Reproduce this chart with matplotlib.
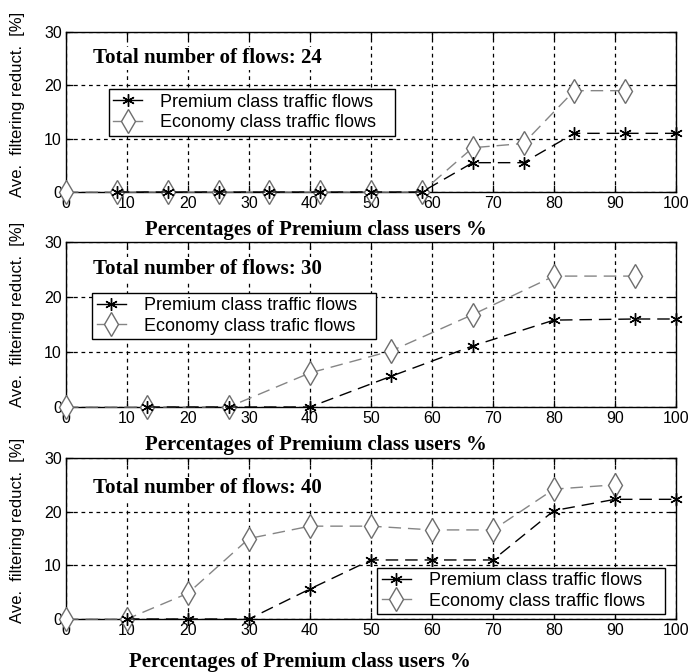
import numpy as np
import matplotlib.pyplot as plt
from matplotlib.lines import Line2D

# Panel 1: 24 flows
x24_prem = [8.33, 16.67, 25, 33.33, 41.67, 50, 58.33, 66.67, 75, 83.33, 91.67, 100]
y24_prem = [0, 0, 0, 0, 0, 0, 0, 5.5, 5.5, 11, 11, 11]
x24_econ = [0, 8.33, 16.67, 25, 33.33, 41.67, 50, 58.33, 66.67, 75, 83.33, 91.67]
y24_econ = [0, 0, 0, 0, 0, 0, 0, 0, 8.3, 9.1, 19, 19]

# Panel 2: 30 flows
x30_prem = [13.33, 26.67, 40, 53.33, 66.67, 80, 93.33, 100]
y30_prem = [0, 0, 0, 5.6, 11.1, 15.8, 16, 16]
x30_econ = [0, 13.33, 26.67, 40, 53.33, 66.67, 80, 93.33]
y30_econ = [0, 0, 0, 6.2, 10.2, 16.8, 23.8, 23.8]

# Panel 3: 40 flows
x40_prem = [10, 20, 30, 40, 50, 60, 70, 80, 90, 100]
y40_prem = [0, 0, 0, 5.6, 11, 11, 11, 20.2, 22.3, 22.3]
x40_econ = [0, 10, 20, 30, 40, 50, 60, 70, 80, 90]
y40_econ = [0, 0, 4.8, 15, 17.3, 17.3, 16.6, 16.6, 24.2, 25]

titles = ["Total number of flows: 24", "Total number of flows: 30", "Total number of flows: 40"]
econ_labels = ["Economy class traffic flows", "Economy class trafic flows", "Economy class traffic flows"]
prem_label = "Premium class traffic flows"
xlabel = "Percentages of Premium class users %"
ylabel = "Ave.  filtering reduct.  [%]"

sans = ['Liberation Sans', 'DejaVu Sans']
serif = ['Liberation Serif', 'DejaVu Serif']

W, H = 691, 672
fig = plt.figure(figsize=(W / 100, H / 100), dpi=100)

# axes boxes in pixels: (top, bottom)
boxes = [(32, 192), (242, 407), (458, 619)]
left_px, right_px = 66, 676
# legend boxes in data units: x0, y0, width, height
legend_boxes = [(7, 10, 47, 9.8), (4.3, 12.0, 46.6, 9.1), (51, 0.3, 47.2, 9.9)]
title_y = [25.1, 25.1, 24.4]
xlabel_off = [38, 38, 43]
xlabel_x = [41, 41, 38.4]

data = [(x24_prem, y24_prem, x24_econ, y24_econ),
        (x30_prem, y30_prem, x30_econ, y30_econ),
        (x40_prem, y40_prem, x40_econ, y40_econ)]

star = (6, 2, 0)
econ_style = dict(color='#858585', lw=1.0, marker='d', ms=12, mfc='white', mec='#6e6e6e', mew=1.0)
prem_style = dict(color='black', lw=1.0, marker=star, ms=9, mec='black', mew=1.0)

for i, (top, bot) in enumerate(boxes):
    hpx = bot - top
    ax = fig.add_axes([left_px / W, 1 - bot / H, (right_px - left_px) / W, hpx / H])
    xp, yp, xe, ye = data[i]
    ax.plot(xe, ye, ls=(0, (9, 5)), zorder=3, clip_on=False, **econ_style)
    ax.plot(xp, yp, ls=(0, (9, 5)), zorder=4, clip_on=False, **prem_style)
    ax.set_xlim(0, 100)
    ax.set_ylim(0, 30)
    ax.set_xticks(np.arange(0, 101, 10))
    ax.set_yticks([0, 10, 20, 30])
    ax.grid(True, color='black', ls=(0, (3, 3)), lw=0.9)
    ax.tick_params(direction='in', length=5, width=0.9, labelsize=11.5, pad=3,
                   top=True, right=True)
    for lab in ax.get_xticklabels() + ax.get_yticklabels():
        lab.set_family(sans)
    for s in ax.spines.values():
        s.set_linewidth(1.0)

    ax.text(4.4, title_y[i], titles[i], family=serif, weight='bold', fontsize=15,
            va='center', ha='left', zorder=5,
            bbox=dict(facecolor='white', edgecolor='none', pad=1))

    yc = (hpx - 72.5) / hpx
    ax.text(-48 / (right_px - left_px), yc, ylabel, transform=ax.transAxes,
            family=sans, fontsize=12, rotation=90, ha='center', va='center')

    ax.text(xlabel_x[i] / 100, -xlabel_off[i] / hpx, xlabel, transform=ax.transAxes,
            family=serif, weight='bold', fontsize=15, ha='center', va='center')

    handles = [Line2D([], [], **prem_style), Line2D([], [], **econ_style)]
    lx, ly, lw_, lh = legend_boxes[i]
    leg = ax.legend(handles, [prem_label, econ_labels[i]],
                    loc='center left', bbox_to_anchor=(lx / 100, ly / 30, lw_ / 100, lh / 30),
                    mode='expand', fancybox=False, framealpha=1, edgecolor='black',
                    prop={'family': sans, 'size': 13}, handlelength=1.6,
                    borderpad=0.25, labelspacing=0.2, handletextpad=1.0, borderaxespad=0)
    leg.get_frame().set_linewidth(1.0)
    leg.set_zorder(10)

fig.savefig('out.png', dpi=100)
